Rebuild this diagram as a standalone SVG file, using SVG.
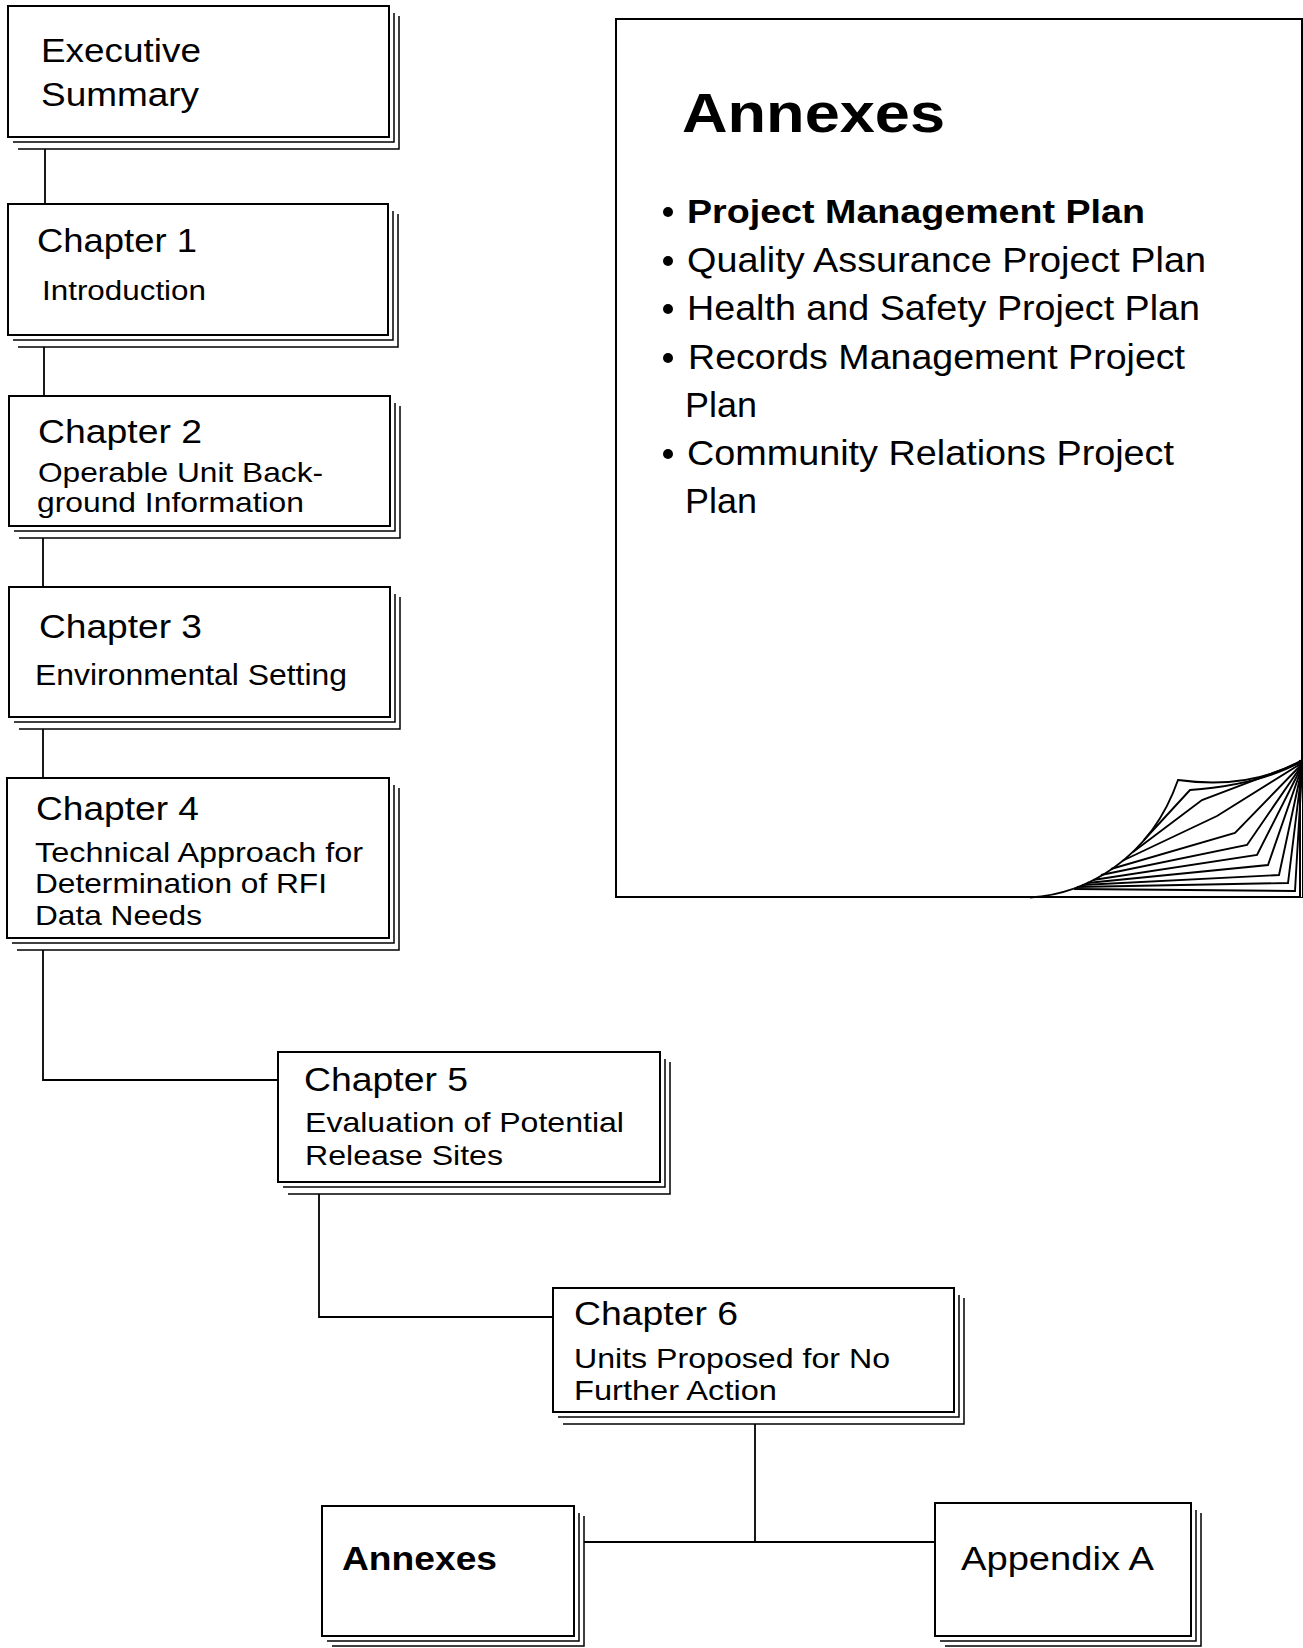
<svg xmlns="http://www.w3.org/2000/svg" width="1303" height="1648" viewBox="0 0 1303 1648">
<style>
.box{fill:#fff;stroke:#000;stroke-width:2}
.sh{fill:none;stroke:#000;stroke-width:1.5}
.conn{fill:none;stroke:#000;stroke-width:1.8}
.fold{fill:none;stroke:#000;stroke-width:1.9;stroke-linejoin:miter}
.t{font-family:"Liberation Sans",Arial,Helvetica,sans-serif;fill:#000}
.h{font-size:34px}
.s{font-size:28px}
.b{font-weight:bold}
.li{font-size:35px}
</style>
<rect x="0" y="0" width="1303" height="1648" fill="#fff"/>
<g id="connectors">
<path class="conn" d="M45,149 V204"/>
<path class="conn" d="M44,347 V396"/>
<path class="conn" d="M43,538 V587"/>
<path class="conn" d="M43,729 V778"/>
<path class="conn" d="M43,950 V1080 H278"/>
<path class="conn" d="M319,1194 V1317 H553"/>
<path class="conn" d="M755,1424 V1542 M584,1542 H935"/>
</g>
<g id="executive-summary">
<path class="sh" d="M13,142 H394 V13 M18,149 H399 V16"/>
<rect class="box" x="8" y="6" width="381" height="131"/>
<text class="t" x="41" y="62" font-size="33" textLength="160" lengthAdjust="spacingAndGlyphs">Executive</text>
<text class="t" x="41" y="106" font-size="33" textLength="158" lengthAdjust="spacingAndGlyphs">Summary</text>
</g>
<g id="chapter-1">
<path class="sh" d="M13,340 H393 V211 M18,347 H398 V214"/>
<rect class="box" x="8" y="204" width="380" height="131"/>
<text class="t h" x="37" y="252" textLength="160" lengthAdjust="spacingAndGlyphs">Chapter 1</text>
<text class="t" x="42" y="300" font-size="27" textLength="164" lengthAdjust="spacingAndGlyphs">Introduction</text>
</g>
<g id="chapter-2">
<path class="sh" d="M14,531 H395 V403 M19,538 H400 V406"/>
<rect class="box" x="9" y="396" width="381" height="130"/>
<text class="t h" x="38" y="443" textLength="164" lengthAdjust="spacingAndGlyphs">Chapter 2</text>
<text class="t s" x="38" y="482" textLength="285" lengthAdjust="spacingAndGlyphs">Operable Unit Back-</text>
<text class="t s" x="37" y="512" textLength="267" lengthAdjust="spacingAndGlyphs">ground Information</text>
</g>
<g id="chapter-3">
<path class="sh" d="M14,722 H395 V594 M19,729 H400 V597"/>
<rect class="box" x="9" y="587" width="381" height="130"/>
<text class="t h" x="39" y="638" textLength="163" lengthAdjust="spacingAndGlyphs">Chapter 3</text>
<text class="t" x="35" y="685" font-size="30" textLength="312" lengthAdjust="spacingAndGlyphs">Environmental Setting</text>
</g>
<g id="chapter-4">
<path class="sh" d="M12,943 H394 V785 M17,950 H399 V788"/>
<rect class="box" x="7" y="778" width="382" height="160"/>
<text class="t h" x="36" y="820" textLength="163" lengthAdjust="spacingAndGlyphs">Chapter 4</text>
<text class="t s" x="35" y="862" textLength="328" lengthAdjust="spacingAndGlyphs">Technical Approach for</text>
<text class="t s" x="35" y="893" textLength="292" lengthAdjust="spacingAndGlyphs">Determination of RFI</text>
<text class="t s" x="35" y="925" textLength="167" lengthAdjust="spacingAndGlyphs">Data Needs</text>
</g>
<g id="chapter-5">
<path class="sh" d="M283,1187 H665 V1059 M288,1194 H670 V1062"/>
<rect class="box" x="278" y="1052" width="382" height="130"/>
<text class="t h" x="304" y="1091" textLength="164" lengthAdjust="spacingAndGlyphs">Chapter 5</text>
<text class="t s" x="305" y="1132" textLength="319" lengthAdjust="spacingAndGlyphs">Evaluation of Potential</text>
<text class="t s" x="305" y="1165" textLength="198" lengthAdjust="spacingAndGlyphs">Release Sites</text>
</g>
<g id="chapter-6">
<path class="sh" d="M558,1417 H959 V1295 M563,1424 H964 V1298"/>
<rect class="box" x="553" y="1288" width="401" height="124"/>
<text class="t h" x="574" y="1325" textLength="164" lengthAdjust="spacingAndGlyphs">Chapter 6</text>
<text class="t s" x="574" y="1368" textLength="316" lengthAdjust="spacingAndGlyphs">Units Proposed for No</text>
<text class="t s" x="574" y="1400" textLength="203" lengthAdjust="spacingAndGlyphs">Further Action</text>
</g>
<g id="annexes-box">
<path class="sh" d="M327,1641 H579 V1513 M332,1646 H584 V1516"/>
<rect class="box" x="322" y="1506" width="252" height="130"/>
<text class="t b" x="342" y="1570" font-size="33" textLength="155" lengthAdjust="spacingAndGlyphs">Annexes</text>
</g>
<g id="appendix-a">
<path class="sh" d="M940,1641 H1196 V1510 M945,1646 H1201 V1513"/>
<rect class="box" x="935" y="1503" width="256" height="133"/>
<text class="t" x="961" y="1570" font-size="33" textLength="193" lengthAdjust="spacingAndGlyphs">Appendix A</text>
</g>
<g id="annexes-page">
<rect class="box" x="616" y="19" width="686" height="878"/>
<text class="t b" x="682" y="132" font-size="56" textLength="263" lengthAdjust="spacingAndGlyphs">Annexes</text>
<circle cx="668" cy="212" r="5"/>
<text class="t b" x="687" y="223" font-size="33" textLength="458" lengthAdjust="spacingAndGlyphs">Project Management Plan</text>
<circle cx="668" cy="261" r="5"/>
<text class="t li" x="687" y="272" textLength="519" lengthAdjust="spacingAndGlyphs">Quality Assurance Project Plan</text>
<circle cx="668" cy="309" r="5"/>
<text class="t li" x="687" y="320" textLength="513" lengthAdjust="spacingAndGlyphs">Health and Safety Project Plan</text>
<circle cx="668" cy="358" r="5"/>
<text class="t li" x="688" y="369" textLength="497" lengthAdjust="spacingAndGlyphs">Records Management Project</text>
<text class="t li" x="685" y="417" textLength="72" lengthAdjust="spacingAndGlyphs">Plan</text>
<circle cx="668" cy="454" r="5"/>
<text class="t li" x="687" y="465" textLength="487" lengthAdjust="spacingAndGlyphs">Community Relations Project</text>
<text class="t li" x="685" y="513" textLength="72" lengthAdjust="spacingAndGlyphs">Plan</text>
<g id="page-curl">
<path d="M1033,897 C1085,893 1150,860 1178,780 Q1250,790 1302,760 L1302,897 Z" fill="#fff" stroke="none"/>
<path class="fold" d="M1030,897.5 C1085,894 1150,860 1178,780 Q1250,790 1302,760"/>
<path class="fold" d="M1144,840 L1190,790 Q1260,785 1302,761"/>
<path class="fold" d="M1133,852 L1202,800 L1302,762"/>
<path class="fold" d="M1122,861 L1217,816 L1302,763"/>
<path class="fold" d="M1111,869 L1235,833 L1302,764"/>
<path class="fold" d="M1101,875 L1247,845 L1302,765"/>
<path class="fold" d="M1093,880 L1257,855 L1302,766"/>
<path class="fold" d="M1087,883 L1268,865 L1302,767"/>
<path class="fold" d="M1082,885 L1279,875 L1302,768"/>
<path class="fold" d="M1077,887 L1288,883 L1302,769"/>
<path class="fold" d="M1074,889 L1295,891 L1302,770"/>
<path d="M1300,760 V897 H1033" fill="none" stroke="#000" stroke-width="2"/>
</g>
</g>
</svg>
